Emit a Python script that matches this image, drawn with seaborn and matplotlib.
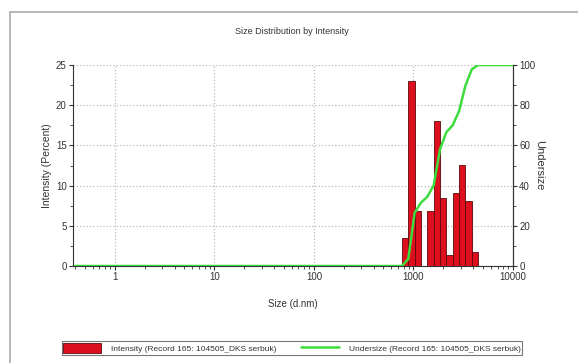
import numpy as np
import matplotlib
matplotlib.use('Agg')
import matplotlib.pyplot as plt
import matplotlib.ticker as mticker
from matplotlib.patches import Rectangle
from matplotlib.lines import Line2D
import seaborn as sns

# bin sizes (d.nm) and intensity (%)
bin_sizes = [712.4, 825.0, 955.4, 1106, 1281, 1484, 1718, 1990, 2305, 2669, 3091, 3580, 4145, 4801]
intensity = [0.0, 3.5, 23.0, 6.8, 0.0, 6.8, 18.0, 8.5, 1.4, 9.1, 12.6, 8.1, 1.7, 0.0]

# undersize curve (cumulative %)
under_sizes = [0.4, 768, 887, 1028, 1190, 1380, 1597, 1849, 2141, 2480, 2872, 3326, 3852, 4460, 10000]
undersize = [0, 0, 3.5, 26.5, 31.5, 34.5, 40.1, 58.1, 66.6, 70.0, 77.1, 89.7, 97.8, 100, 100]

x_ticks = [1, 10, 100, 1000, 10000]
x_tick_labels = ['1', '10', '100', '1000', '10000']

sns.set_theme(style='white')
plt.rcParams['font.family'] = ['Liberation Sans', 'DejaVu Sans']

fig = plt.figure(figsize=(5.78, 3.63), dpi=100)
ax = fig.add_axes([73 / 578, 97 / 363, 440 / 578, 201 / 363])

# bar edges on log scale
ratio = 10 ** (np.log10(10000 / 0.4) / 70)
sizes = np.array(bin_sizes)
lefts = sizes / np.sqrt(ratio)
widths = sizes * np.sqrt(ratio) - lefts
ax.bar(lefts, intensity, width=widths, align='edge', color='#dd0f1f',
       edgecolor='#5a0a0a', linewidth=0.6, zorder=3)

ax.set_xscale('log')
ax.set_xlim(0.38, 10000)
ax.set_ylim(0, 25)
ax.set_xticks(x_ticks)
ax.set_xticklabels(x_tick_labels)
ax.set_yticks([0, 5, 10, 15, 20, 25])
ax.yaxis.set_minor_locator(mticker.MultipleLocator(2.5))
ax.xaxis.set_minor_locator(mticker.LogLocator(base=10, subs=np.arange(2, 10)))
ax.xaxis.set_minor_formatter(mticker.NullFormatter())
ax.grid(True, which='major', color='#bbbbbb', linestyle=':', linewidth=0.9, zorder=0)

ax2 = ax.twinx()
sns.lineplot(x=under_sizes, y=undersize, ax=ax2, color='#3ddc3d', linewidth=1.8, zorder=4)
ax2.set_ylim(0, 100)
ax2.set_yticks([0, 20, 40, 60, 80, 100])
ax2.yaxis.set_minor_locator(mticker.MultipleLocator(10))
ax2.set_xlim(0.38, 10000)

for a in (ax, ax2):
    a.spines['top'].set_visible(False)
    for s in ('left', 'right', 'bottom'):
        a.spines[s].set_color('#333333')
        a.spines[s].set_linewidth(0.8)
    a.tick_params(which='major', length=3, width=0.8, color='#333333', labelsize=7,
                  labelcolor='#333333', pad=1.5)
    a.tick_params(which='minor', length=2, width=0.6, color='#333333')
ax.tick_params(axis='y', which='both', left=True, direction='out')
ax.tick_params(axis='x', which='both', bottom=True, direction='out')
ax2.tick_params(axis='y', which='both', right=True, direction='out')
ax2.spines['left'].set_visible(False)
ax2.spines['bottom'].set_visible(False)

ax.set_xlabel('Size (d.nm)', fontsize=7, color='#333333', labelpad=12)
ax.set_ylabel('Intensity (Percent)', fontsize=7.5, color='#333333', labelpad=3)
ax2.set_ylabel('Undersize', fontsize=8, color='#333333', rotation=-90, labelpad=6)
fig.text(0.505, 0.912, 'Size Distribution by Intensity', ha='center', va='center',
         fontsize=6.5, color='#333333')

# outer frame
fig.patches.append(Rectangle((10 / 578, -0.02), 1.0, (363 - 12) / 363 + 0.02,
                             transform=fig.transFigure, fill=False,
                             edgecolor='#aaaaaa', linewidth=1.2))

handles = [Rectangle((0, 0), 1, 1, facecolor='#dd0f1f', edgecolor='#5a0a0a', linewidth=0.6),
           Line2D([0], [0], color='#3ddc3d', linewidth=1.8)]
labels = ['Intensity (Record 165: 104505_DKS serbuk)',
          'Undersize (Record 165: 104505_DKS serbuk)']
leg = fig.legend(handles, labels, loc='center', bbox_to_anchor=(0.505, 0.041), ncol=2,
                 fontsize=6, frameon=True, fancybox=False, edgecolor='#555555',
                 handlelength=4.5, handleheight=1.6, columnspacing=3.0,
                 borderpad=0.2, handletextpad=1.2, borderaxespad=0)
leg.get_frame().set_linewidth(0.8)
for t in leg.get_texts():
    t.set_color('#333333')

fig.savefig('out.png', dpi=100)
